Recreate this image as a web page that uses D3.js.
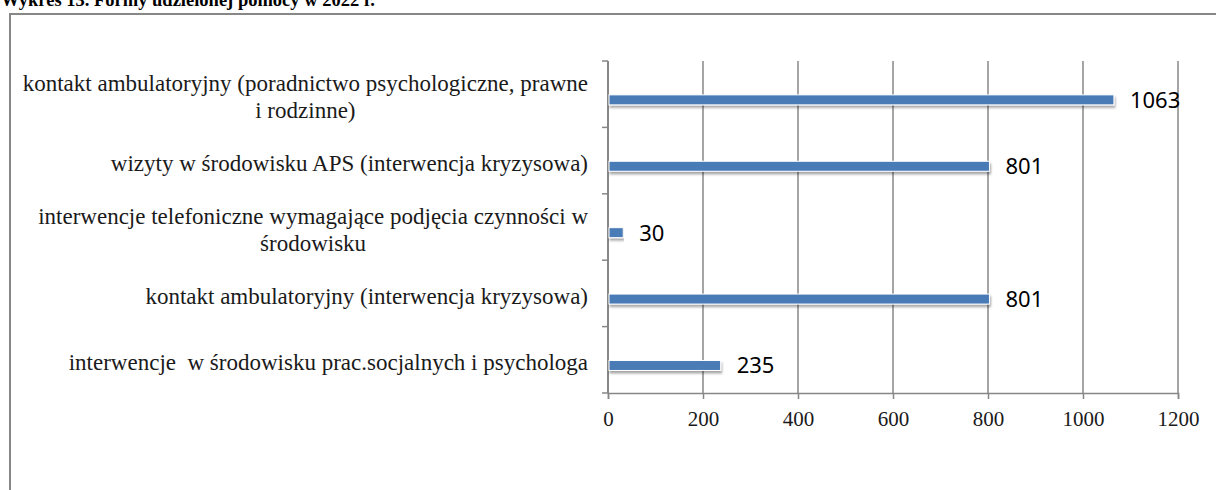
<!DOCTYPE html>
<html>
<head>
<meta charset="utf-8">
<title>Wykres 13</title>
<script src="https://cdn.jsdelivr.net/npm/d3@7/dist/d3.min.js"></script>
<style>
  body { margin: 0; background: #fff; }
  .cat { font-family: "Liberation Serif", serif; font-size: 23px; fill: #1a1a1a; white-space: pre; }
  .tick text { font-family: "Liberation Serif", serif; font-size: 21px; fill: #1a1a1a; }
  .val { font-family: "Noto Sans", sans-serif; font-size: 22px; fill: #000; }
</style>
</head>
<body>
<script>
// data
var categories = [
  "kontakt ambulatoryjny (poradnictwo psychologiczne, prawne i rodzinne)",
  "wizyty w środowisku APS (interwencja kryzysowa)",
  "interwencje telefoniczne wymagające podjęcia czynności w środowisku",
  "kontakt ambulatoryjny (interwencja kryzysowa)",
  "interwencje  w środowisku prac.socjalnych i psychologa"
];
// how the labels wrap in the picture
var labelLines = [
  ["kontakt ambulatoryjny (poradnictwo psychologiczne, prawne", "i rodzinne)"],
  ["wizyty w środowisku APS (interwencja kryzysowa)"],
  ["interwencje telefoniczne wymagające podjęcia czynności w", "środowisku"],
  ["kontakt ambulatoryjny (interwencja kryzysowa)"],
  ["interwencje  w środowisku prac.socjalnych i psychologa"]
];
var values = [1063, 801, 30, 801, 235];
var xTicks = [0, 200, 400, 600, 800, 1000, 1200];
var title = "Wykres 13. Formy udzielonej pomocy w 2022 r.";

var W = 1216, H = 490;
var plotLeft = 608, plotRight = 1178, plotTop = 61, plotBottom = 393;
var grey = "#878787";

var svg = d3.select("body").append("svg")
  .attr("width", W).attr("height", H);

var defs = svg.append("defs");
var f = defs.append("filter").attr("id", "shadow")
  .attr("x", "-5%").attr("y", "-50%").attr("width", "110%").attr("height", "250%");
f.append("feDropShadow").attr("dx", 1).attr("dy", 2.5).attr("stdDeviation", 1.2)
  .attr("flood-color", "#000").attr("flood-opacity", 0.35);

// title (cut at the top like the source)
svg.append("text")
  .attr("x", 1).attr("y", 6)
  .style("font-family", "'Liberation Serif', serif")
  .style("font-size", "18.5px").style("font-weight", "bold")
  .text(title);

// outer frame
svg.append("rect")
  .attr("x", 10).attr("y", 14).attr("width", W + 20).attr("height", H + 20)
  .attr("fill", "none").attr("stroke", grey).attr("stroke-width", 2);

var x = d3.scaleLinear().domain([0, 1200]).range([plotLeft, plotRight]);
var y = d3.scaleBand().domain(categories).range([plotTop, plotBottom]);

// vertical gridlines
svg.append("g").selectAll("line")
  .data(xTicks.slice(1))
  .enter().append("line")
  .attr("x1", function(d) { return x(d); }).attr("x2", function(d) { return x(d); })
  .attr("y1", plotTop).attr("y2", plotBottom)
  .attr("stroke", grey).attr("stroke-width", 1.5);

// x axis
var xAxis = svg.append("g")
  .attr("transform", "translate(0," + plotBottom + ")")
  .call(d3.axisBottom(x).tickValues(xTicks).tickSize(6).tickPadding(12).tickFormat(d3.format("d")));
xAxis.select(".domain").attr("stroke", grey).attr("stroke-width", 1.5);
xAxis.selectAll(".tick line").attr("stroke", grey).attr("stroke-width", 1.5);
xAxis.selectAll(".tick text").attr("dy", "0.71em");

// y axis: only the line and the ticks between categories
var yg = svg.append("g");
yg.append("line")
  .attr("x1", plotLeft).attr("x2", plotLeft).attr("y1", plotTop).attr("y2", plotBottom)
  .attr("stroke", grey).attr("stroke-width", 2);
var bounds = categories.map(function(c) { return y(c); }).concat([plotBottom]);
yg.selectAll(".yt").data(bounds).enter().append("line")
  .attr("x1", plotLeft - 6).attr("x2", plotLeft)
  .attr("y1", function(d) { return d; }).attr("y2", function(d) { return d; })
  .attr("stroke", grey).attr("stroke-width", 1.5);

// bars
var barH = 10;
var barOff = y.bandwidth() * 0.51;
svg.append("g").selectAll("rect")
  .data(values)
  .enter().append("rect")
  .attr("x", x(0) + 1)
  .attr("y", function(d, i) { return y(categories[i]) + barOff; })
  .attr("width", function(d) { return x(d) - x(0); })
  .attr("height", barH)
  .attr("fill", "#4a7bb7")
  .attr("stroke", "#fff").attr("stroke-width", 1)
  .attr("filter", "url(#shadow)");

// value labels
svg.append("g").selectAll("text")
  .data(values)
  .enter().append("text")
  .attr("class", "val")
  .attr("x", function(d) { return x(d) + 17; })
  .attr("y", function(d, i) { return y(categories[i]) + barOff + barH / 2; })
  .attr("dy", "0.36em")
  .text(function(d) { return d; });

// category labels
var labelRight = plotLeft - 20;
var lineH = 27;
categories.forEach(function(c, i) {
  var lines = labelLines[i];
  var cy = y(c) + barOff + barH / 2 - 3;
  var g = svg.append("g");
  var texts = g.selectAll("text").data(lines).enter().append("text")
    .attr("class", "cat")
    .attr("dy", "0.33em")
    .attr("y", function(d, j) { return cy + (j - (lines.length - 1) / 2) * lineH; })
    .text(function(d) { return d; });
  var widths = [];
  texts.each(function() { widths.push(this.getComputedTextLength()); });
  var maxW = d3.max(widths);
  texts.attr("text-anchor", "middle").attr("x", labelRight - maxW / 2);
});
</script>
</body>
</html>
